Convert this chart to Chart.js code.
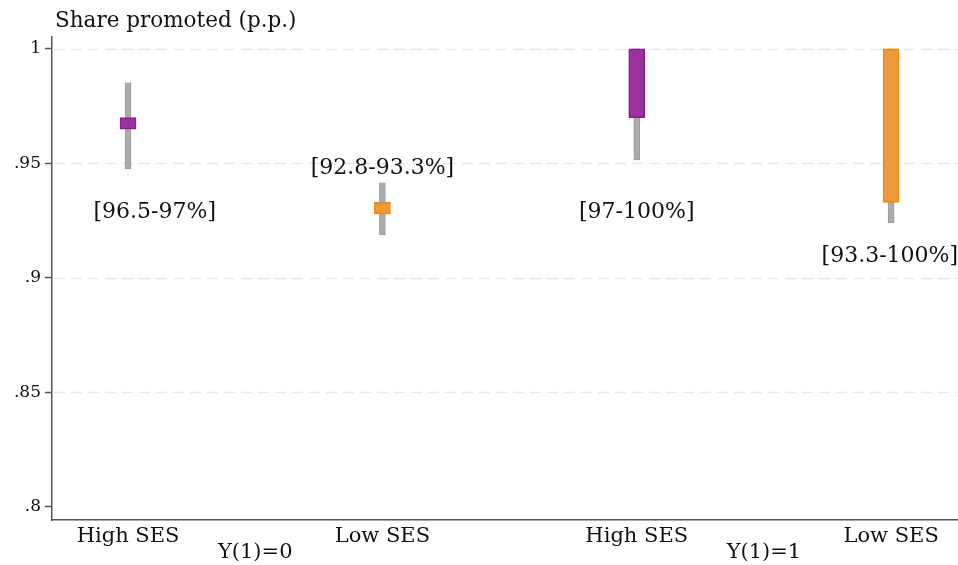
<!DOCTYPE html>
<html>
<head>
<meta charset="utf-8">
<script src="https://cdn.jsdelivr.net/npm/chart.js@4/dist/chart.umd.min.js"></script>
<style>
  html, body { margin: 0; padding: 0; background: #ffffff; }
  #wrap { width: 958px; height: 565px; position: relative; }
</style>
</head>
<body>
<div id="wrap"><canvas id="c"></canvas></div>
<script>
// Groups along the x axis (position 1..4)
const categories = ['High SES', 'Low SES', 'High SES', 'Low SES'];
const groupLabels = ['Y(1)=0', 'Y(1)=1'];
const positions = [1, 2, 3, 4];

// Bounds on the share promoted (colored boxes)
const boundLow  = [0.965, 0.928, 0.970, 0.933];
const boundHigh = [0.970, 0.933, 1.000, 1.000];

// Confidence intervals (grey whiskers)
const ciLow  = [0.9476, 0.9188, 0.9515, 0.9240];
const ciHigh = [0.9852, 0.9415, 1.0000, 1.0000];

// Y axis ticks
const yTicks = [0.8, 0.85, 0.9, 0.95, 1];

const PURPLE_FILL = '#9b339f', PURPLE_EDGE = '#8a1a8e';
const ORANGE_FILL = '#ec9a3c', ORANGE_EDGE = '#e8890f';
const boxFill = [PURPLE_FILL, ORANGE_FILL, PURPLE_FILL, ORANGE_FILL];
const boxEdge = [PURPLE_EDGE, ORANGE_EDGE, PURPLE_EDGE, ORANGE_EDGE];

const FONT = "'DejaVu Serif', Georgia, serif";

function pct(v) {
  return String(Math.round(v * 1000) / 10);
}
const boundText = boundLow.map((lo, i) => '[' + pct(lo) + '-' + pct(boundHigh[i]) + '%]');

// Where each bound label sits, in axis units
const labelAt = [
  { x: 1.105, y: 0.9288 },
  { x: 2.0,   y: 0.9480 },
  { x: 3.0,   y: 0.9288 },
  { x: 3.995, y: 0.9096 }
];

const dashedGrid = {
  id: 'dashedGrid',
  beforeDatasetsDraw(chart) {
    const { ctx, chartArea, scales: { y } } = chart;
    ctx.save();
    ctx.strokeStyle = '#e8e8e8';
    ctx.lineWidth = 1.5;
    ctx.setLineDash([11, 6]);
    yTicks.forEach(v => {
      if (v <= 0.8) return;
      const py = Math.round(y.getPixelForValue(v)) + 0.5;
      ctx.beginPath();
      ctx.moveTo(chartArea.left + 2, py);
      ctx.lineTo(chartArea.right, py);
      ctx.stroke();
    });
    ctx.restore();
  }
};

const annotations = {
  id: 'annotations',
  afterDraw(chart) {
    const { ctx, chartArea, scales: { x, y } } = chart;
    ctx.save();
    ctx.fillStyle = '#111111';
    // bound labels
    ctx.font = '22px ' + FONT;
    ctx.textAlign = 'center';
    ctx.textBaseline = 'middle';
    boundText.forEach((t, i) => {
      ctx.fillText(t, x.getPixelForValue(labelAt[i].x), y.getPixelForValue(labelAt[i].y));
    });
    // group labels below category ticks
    ctx.font = '21px ' + FONT;
    groupLabels.forEach((t, i) => {
      const cx = x.getPixelForValue(positions[i * 2] + 0.5);
      ctx.fillText(t, cx, chartArea.bottom + 33);
    });
    // axis title
    ctx.textAlign = 'left';
    ctx.font = '21.5px ' + FONT;
    ctx.fillText('Share promoted (p.p.)', chartArea.left + 3, 21);
    ctx.restore();
  }
};

new Chart(document.getElementById('c'), {
  type: 'bar',
  data: {
    datasets: [
      {
        label: 'Bounds',
        data: positions.map((p, i) => ({ x: p, y: [boundLow[i], boundHigh[i]] })),
        backgroundColor: boxFill,
        borderColor: boxEdge,
        borderWidth: 1.5,
        borderSkipped: false,
        barThickness: 16,
        grouped: false,
        order: 1
      },
      {
        label: 'CI',
        data: positions.map((p, i) => ({ x: p, y: [ciLow[i], ciHigh[i]] })),
        backgroundColor: '#ababab',
        borderColor: '#9c9c9c',
        borderWidth: 1,
        borderSkipped: false,
        barThickness: 6,
        grouped: false,
        order: 2
      }
    ]
  },
  options: {
    responsive: true,
    maintainAspectRatio: false,
    animation: false,
    layout: { padding: { top: 37, right: 0, left: 0, bottom: 0 } },
    plugins: { legend: { display: false }, tooltip: { enabled: false } },
    scales: {
      x: {
        type: 'linear',
        offset: false,
        min: 0.701,
        max: 4.263,
        afterBuildTicks(scale) { scale.ticks = positions.map(v => ({ value: v })); },
        afterFit(scale) { scale.height = 45; },
        ticks: {
          autoSkip: false,
          maxRotation: 0,
          padding: -4,
          color: '#111111',
          font: { family: FONT, size: 21 },
          callback(v) { return categories[positions.indexOf(v)]; }
        },
        grid: { display: false, offset: false },
        border: { display: true, color: '#555555', width: 1.5 }
      },
      y: {
        min: 0.7943,
        max: 1.0052,
        afterBuildTicks(scale) { scale.ticks = yTicks.map(v => ({ value: v })); },
        afterFit(scale) { scale.width = 52; },
        ticks: {
          padding: 4,
          color: '#111111',
          font: { family: FONT, size: 17 },
          callback(v) {
            const s = String(Math.round(v * 100) / 100);
            return s.startsWith('0') ? s.slice(1) : s;
          }
        },
        grid: {
          drawOnChartArea: false,
          drawTicks: true,
          tickLength: 7,
          tickColor: '#555555',
          tickWidth: 1.5
        },
        border: { display: true, color: '#555555', width: 1.5 }
      }
    }
  },
  plugins: [dashedGrid, annotations]
});
</script>
</body>
</html>
